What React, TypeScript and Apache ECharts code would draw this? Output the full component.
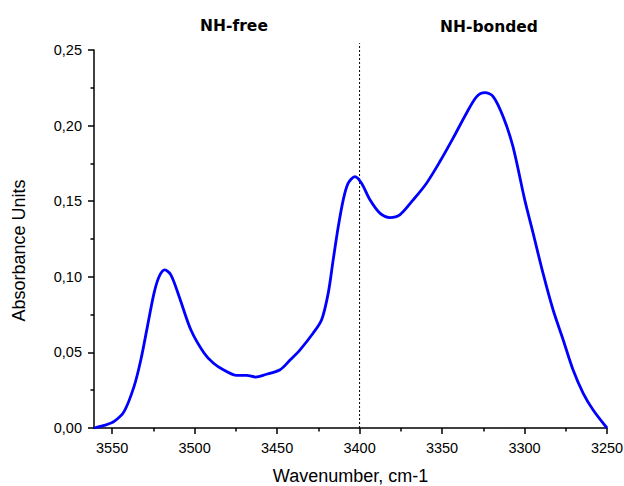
import React, { useEffect, useRef } from "react";
import * as echarts from "echarts";

// Wavenumber (cm-1) and absorbance
const wavenumbers = [
  3561, 3554.8, 3548.8, 3542.7, 3536.7, 3532.6, 3528.6, 3524.6, 3521.5,
  3518.1, 3514.4, 3509.4, 3502.3, 3494.3, 3488.7, 3482.6, 3474.5, 3468.4,
  3463, 3457.4, 3448.2, 3442, 3436.1, 3428.1, 3423, 3419, 3416, 3412.9,
  3409.9, 3406.9, 3402.8, 3398.8, 3393.7, 3387.7, 3381.6, 3375.6, 3367.5,
  3359.4, 3351.3, 3343.3, 3335.2, 3329, 3324, 3319, 3313, 3307, 3299.9,
  3294.8, 3288.8, 3282.7, 3276.6, 3270.6, 3264.5, 3258.5, 3250,
];
const absorbance = [
  0.0, 0.0017, 0.0044, 0.011, 0.0275, 0.0451, 0.0672, 0.0892, 0.1002, 0.1046,
  0.1013, 0.087, 0.065, 0.0496, 0.043, 0.0385, 0.0348, 0.0348, 0.0337, 0.0352,
  0.0385, 0.0451, 0.0517, 0.0628, 0.0716, 0.0892, 0.1112, 0.1332, 0.1509,
  0.1619, 0.1663, 0.1619, 0.1509, 0.1421, 0.1392, 0.141, 0.1509, 0.1619,
  0.1762, 0.1917, 0.2082, 0.2192, 0.2218, 0.2192, 0.206, 0.1861, 0.151,
  0.1289, 0.1024, 0.0782, 0.0584, 0.0385, 0.0231, 0.0121, 0.0,
];

const xTicks = [3250, 3300, 3350, 3400, 3450, 3500, 3550];
const xMinorTicks = [3275, 3325, 3375, 3425, 3475, 3525];
const xMin = 3250;
const xMax = 3561;
const yMin = 0;
const yMax = 0.25;
const yInterval = 0.05;
const dividerX = 3400;
const dividerTop = 0.2545;
const regionLabels = ["NH-free", "NH-bonded"];
const xTitle = "Wavenumber, cm-1";
const yTitle = "Absorbance Units";

const tickFont = "'Liberation Sans', Arial, sans-serif";

export default function App() {
  const ref = useRef<HTMLDivElement>(null);

  useEffect(() => {
    if (!ref.current) return;
    const chart = echarts.init(ref.current, null, { renderer: "svg" });
    const points = wavenumbers.map((w, i) => [w, absorbance[i]]);

    chart.setOption({
      animation: false,
      backgroundColor: "#ffffff",
      grid: {
        left: 94,
        right: 17,
        top: 50,
        bottom: 58,
        containLabel: false,
        outerBoundsMode: "none",
      },
      xAxis: [
        {
          type: "value",
          inverse: true,
          min: xMin,
          max: xMax,
          interval: 50,
          name: xTitle,
          nameLocation: "middle",
          nameGap: 39,
          nameTextStyle: { color: "#000", fontSize: 18, fontFamily: tickFont },
          axisLine: { show: true, lineStyle: { color: "#000", width: 1.5 } },
          axisTick: {
            show: true,
            length: 6,
            customValues: xTicks,
            lineStyle: { color: "#000", width: 1.5 },
          },
          axisLabel: {
            customValues: xTicks,
            margin: 12,
            color: "#000",
            fontSize: 14.5,
            fontFamily: tickFont,
            formatter: (v: number) => String(v),
          },
          splitLine: { show: false },
        },
        {
          type: "value",
          inverse: true,
          min: xMin,
          max: xMax,
          interval: 25,
          position: "bottom",
          axisLine: { show: false },
          axisTick: {
            show: true,
            length: 3.5,
            customValues: xMinorTicks,
            lineStyle: { color: "#000", width: 1.5 },
          },
          axisLabel: { show: false },
          splitLine: { show: false },
        },
      ],
      yAxis: {
        type: "value",
        min: yMin,
        max: yMax,
        interval: yInterval,
        axisLine: { show: true, lineStyle: { color: "#000", width: 1.5 } },
        axisTick: { show: true, length: 6, lineStyle: { color: "#000", width: 1.5 } },
        minorTick: { show: true, splitNumber: 2, length: 3.5, lineStyle: { color: "#000", width: 1.5 } },
        axisLabel: {
          margin: 12,
          color: "#000",
          fontSize: 14.5,
          fontFamily: tickFont,
          formatter: (v: number) => v.toFixed(2).replace(".", ","),
        },
        splitLine: { show: false },
      },
      graphic: [
        {
          type: "text",
          x: 18.5,
          y: 250.5,
          rotation: Math.PI / 2,
          style: {
            text: yTitle,
            fill: "#000",
            fontSize: 18,
            fontFamily: tickFont,
            align: "center",
            verticalAlign: "middle",
          },
        },
        {
          type: "text",
          x: 234,
          y: 26,
          style: {
            text: regionLabels[0],
            fill: "#000",
            fontSize: 15.5,
            fontWeight: "bold",
            fontFamily: "'DejaVu Sans', Verdana, sans-serif",
            align: "center",
            verticalAlign: "middle",
          },
        },
        {
          type: "text",
          x: 489,
          y: 27,
          style: {
            text: regionLabels[1],
            fill: "#000",
            fontSize: 15.5,
            fontWeight: "bold",
            fontFamily: "'DejaVu Sans', Verdana, sans-serif",
            align: "center",
            verticalAlign: "middle",
          },
        },
      ],
      series: [
        {
          type: "line",
          name: "divider",
          xAxisIndex: 0,
          data: [
            [dividerX, yMin],
            [dividerX, dividerTop],
          ],
          showSymbol: false,
          symbol: "none",
          clip: false,
          silent: true,
          z: 1,
          lineStyle: { color: "#000", width: 1, type: [2, 2] },
        },
        {
          type: "line",
          name: "spectrum",
          xAxisIndex: 0,
          data: points,
          smooth: 0.3,
          showSymbol: false,
          symbol: "none",
          clip: false,
          z: 2,
          lineStyle: { color: "#0000ff", width: 2.8 },
        },
      ],
    });

    return () => chart.dispose();
  }, []);

  return (
    <div
      ref={ref}
      style={{ position: "fixed", left: 0, top: 0, width: 624, height: 486, background: "#fff" }}
    />
  );
}
